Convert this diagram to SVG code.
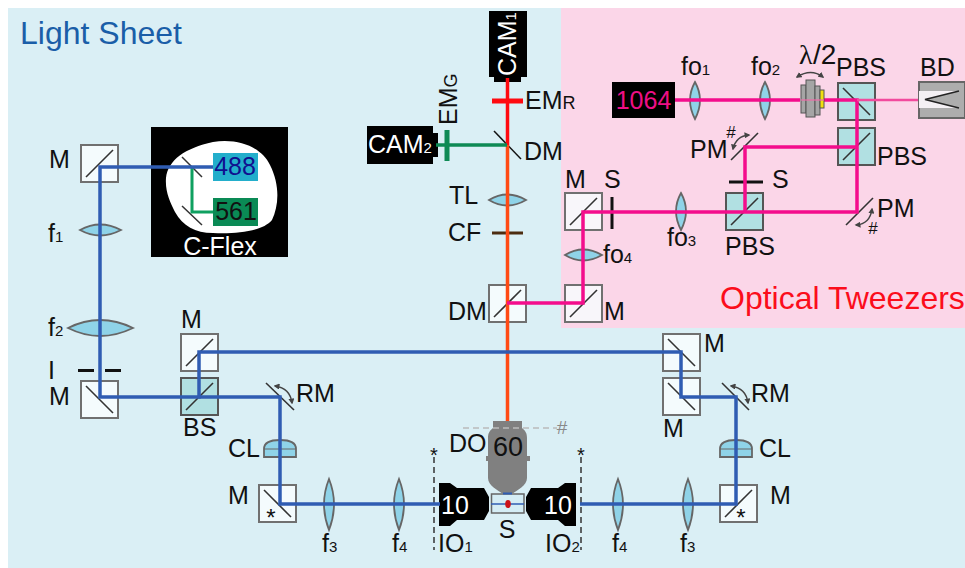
<svg xmlns="http://www.w3.org/2000/svg" width="965" height="568" viewBox="0 0 965 568">
<style>
text{font-family:"Liberation Sans",Arial,sans-serif;font-size:25px;fill:#111}
.sub{font-size:15px}
.subl{font-size:18px}
.w{fill:#fff}
.box{fill:#f4fbfd;stroke:#707070;stroke-width:2}
.pbox{fill:#f8f6fa;stroke:#707070;stroke-width:2}
.teal{fill:#b1e0e2;stroke:#555;stroke-width:2}
.m{stroke:#333;stroke-width:1.600;fill:none}
.lens{fill:#8fd3e8;stroke:#666;stroke-width:1.800}
.b{fill:none;stroke-linejoin:miter;stroke-width:3.500}
.blue{stroke:#2f5cb2}
.pink{stroke:#f40d8c}
.bar{stroke:#111;stroke-width:3}
.arc{fill:none;stroke:#444;stroke-width:1.500;marker-start:url(#ah);marker-end:url(#ah)}
.dash{stroke:#333;stroke-width:1.500;stroke-dasharray:6 4;fill:none}
.wp{fill:#a5a5a5;stroke:#555}
</style>
<defs><marker id="ah" viewBox="0 0 8 8" refX="6" refY="4" markerWidth="6" markerHeight="6" markerUnits="userSpaceOnUse" orient="auto-start-reverse"><path d="M0 0L8 4L0 8Z" fill="#444"/></marker></defs>
<rect id="bg-light-sheet" x="8" y="8" width="957" height="560" fill="#daeff5"/>
<rect id="bg-tweezers" x="561" y="8" width="404" height="320" fill="#fbd6e8"/>
<text id="title-ls" x="20" y="44" style="font-size:32px;fill:#1a5ea8">Light Sheet</text>
<text id="title-ot" x="720" y="309" style="font-size:32px;fill:#fb0d1b">Optical Tweezers</text>

<g id="n-cflex">
<rect x="151" y="127" width="137" height="130" fill="#000"/>
<path d="M166 178C168 160 185 148 213 142C240 138 262 148 270 165C280 185 279 205 272 220C262 232 235 234 213 233C195 233 183 226 175 212C170 202 165 192 166 178Z" fill="#fff"/>
<rect x="213" y="153" width="45" height="28" fill="#23aecb"/>
<rect x="213" y="198" width="45" height="28" fill="#0a8a55"/>
<path class="m" d="M182 157L202 177M182 206L202 225" style="stroke-width:1.500"/>
<text x="235" y="175" text-anchor="middle" style="fill:#10108f">488</text>
<text x="236" y="220" text-anchor="middle">561</text>
<text x="220" y="255" text-anchor="middle" class="w">C-Flex</text>
</g>
<g id="n-m1"><rect class="box" x="81" y="145" width="37" height="37"/><path class="m" d="M86 177L113 150"/><text x="49" y="168">M</text></g>
<g id="n-f1"><path class="lens" d="M80 230Q100 219 121 230Q100 241 80 230Z"/><text x="48" y="242">f<tspan class="sub">1</tspan></text></g>
<g id="n-f2"><path class="lens" d="M68 328Q100 312 133 328Q100 344 68 328Z"/><text x="48" y="336">f<tspan class="sub">2</tspan></text></g>
<g id="n-i"><path class="bar" d="M78 370.500H94M105 370.500H121"/><text x="48" y="379">I</text></g>
<g id="n-m2"><rect class="box" x="81" y="381" width="37" height="37"/><path class="m" d="M86 386L113 413"/><text x="49" y="405">M</text></g>
<g id="n-m3"><rect class="box" x="181" y="334" width="37" height="37"/><path class="m" d="M186 366L213 339"/><text x="181" y="328">M</text></g>
<g id="n-bs"><rect class="teal" x="181" y="378" width="37" height="37"/><path class="m" d="M186 410L213 383"/><text x="183" y="436">BS</text></g>
<g id="n-rm1"><path class="m" d="M266 383L294 410"/><path class="arc" d="M275 386Q290 388 292 403"/><text x="296" y="402">RM</text></g>
<g id="n-cl1"><path class="lens" d="M264 457V449Q264 440 280 440Q296 440 296 449V457Z"/><path d="M264 449H296" stroke="#666" fill="none"/><text x="228" y="457">CL</text></g>
<g id="n-m4"><rect class="box" x="259" y="485" width="37" height="37"/><path class="m" d="M264 490L291 517"/><text x="271" y="526" text-anchor="middle" style="font-size:24px">*</text><text x="228" y="504">M</text></g>
<g id="n-f3l"><path class="lens" d="M329 479Q339 504 329 530Q319 504 329 479Z"/><text x="322" y="552">f<tspan class="sub">3</tspan></text></g>
<g id="n-f4l"><path class="lens" d="M399 479Q409 504 399 530Q389 504 399 479Z"/><text x="392" y="552">f<tspan class="sub">4</tspan></text></g>

<g id="n-m5"><rect class="box" x="663" y="334" width="37" height="37"/><path class="m" d="M668 339L695 366"/><text x="704" y="352">M</text></g>
<g id="n-m6"><rect class="box" x="663" y="378" width="37" height="37"/><path class="m" d="M668 383L695 410"/><text x="663" y="437">M</text></g>
<g id="n-rm2"><path class="m" d="M722 383L749 410"/><path class="arc" d="M731 386Q746 388 748 403"/><text x="751" y="402">RM</text></g>
<g id="n-cl2"><path class="lens" d="M720 457V449Q720 440 736 440Q752 440 752 449V457Z"/><path d="M720 449H752" stroke="#666" fill="none"/><text x="759" y="457">CL</text></g>
<g id="n-m7"><rect class="box" x="720" y="485" width="37" height="37"/><path class="m" d="M725 517L752 490"/><text x="741" y="526" text-anchor="middle" style="font-size:24px">*</text><text x="770" y="504">M</text></g>
<g id="n-f3r"><path class="lens" d="M688 479Q698 504 688 530Q678 504 688 479Z"/><text x="680" y="552">f<tspan class="sub">3</tspan></text></g>
<g id="n-f4r"><path class="lens" d="M618 479Q628 504 618 530Q608 504 618 479Z"/><text x="612" y="552">f<tspan class="sub">4</tspan></text></g>

<g id="n-sample"><rect x="491.500" y="494" width="32.500" height="19" fill="#d5edf5" stroke="#666" stroke-width="1.500"/><text x="507" y="538" text-anchor="middle">S</text></g>
<g id="n-do">
<path d="M493 421H522V428C526 431 527 434 527 438V456H530V461H527V478C527 486 517 490 512 494H503C498 490 488 486 488 478V461H486V456H488V438C488 434 489 431 493 428Z" fill="#808080"/>
<text x="508" y="456" text-anchor="middle" style="font-size:27px">60</text>
<text x="449" y="452">DO</text>
<path d="M463 428H557" stroke="#bbb" stroke-width="1.500" stroke-dasharray="6 4" fill="none"/>
<text x="562" y="434" text-anchor="middle" style="font-size:19px;fill:#888">#</text>
</g>
<g id="n-io1"><path d="M439 483H450L457 488H484L489 497V511L484 520H457L450 526H439Z" fill="#000"/><text x="455" y="514" text-anchor="middle" class="w">10</text><text x="438" y="552">IO<tspan class="sub">1</tspan></text></g>
<g id="n-io2"><path d="M576 483H565L558 488H531L526 497V511L531 520H558L565 526H576Z" fill="#000"/><text x="558" y="514" text-anchor="middle" class="w">10</text><text x="545" y="552">IO<tspan class="sub">2</tspan></text></g>
<g id="n-star1"><path class="dash" d="M434 457V550"/><text x="434" y="462" text-anchor="middle" style="font-size:20px">*</text></g>
<g id="n-star2"><path class="dash" d="M581 457V550"/><text x="581" y="462" text-anchor="middle" style="font-size:20px">*</text></g>

<g id="n-dm2"><rect class="box" x="489" y="285" width="37" height="37"/><path class="m" d="M494 317L521 290"/><text x="448" y="320">DM</text></g>
<g id="n-cf"><path d="M492 233H523" stroke="#4d2c10" stroke-width="3"/><text x="448" y="241">CF</text></g>
<g id="n-tl"><path class="lens" d="M489 200Q507 189 526 200Q507 211 489 200Z"/><text x="449" y="204">TL</text></g>
<g id="n-dm1"><path d="M494 131L521 159" stroke="#111" stroke-width="1.500"/><text x="524" y="160">DM</text></g>
<g id="n-emr"><path d="M492 101H523" stroke="#ff0a10" stroke-width="5"/><text x="525" y="109">EM<tspan class="subl">R</tspan></text></g>
<g id="n-emg"><path d="M447 130V161" stroke="#0e8a55" stroke-width="5"/><text transform="translate(457 125) rotate(-90)">EM<tspan class="subl">G</tspan></text></g>
<g id="n-cam1"><path d="M489 11H527V77H521V82H494V77H489Z" fill="#000"/><text transform="translate(516 76) rotate(-90)" class="w">CAM<tspan class="sub">1</tspan></text></g>
<g id="n-cam2"><path d="M367 126H433V133H438V157H433V164H367Z" fill="#000"/><text x="368" y="153" class="w">CAM<tspan class="sub">2</tspan></text></g>

<g id="n-1064"><rect x="612" y="82" width="63" height="36" fill="#000"/><text x="643.500" y="109" text-anchor="middle" style="fill:#ee0f86">1064</text></g>
<g id="n-fo1"><path class="lens" d="M695 82Q705 100 695 119Q685 100 695 82Z"/><text x="681" y="75">fo<tspan class="sub">1</tspan></text></g>
<g id="n-fo2"><path class="lens" d="M765 82Q775 100 765 119Q755 100 765 82Z"/><text x="751" y="75">fo<tspan class="sub">2</tspan></text></g>
<g id="n-pbs1"><rect class="teal" x="838" y="83" width="37" height="37"/><path class="m" d="M843 88L870 115"/><text x="836" y="76">PBS</text></g>
<g id="n-pbs2"><rect class="teal" x="838" y="128" width="37" height="37"/><path class="m" d="M843 160L870 133"/><text x="877" y="165">PBS</text></g>
<g id="n-bd"><rect x="919" y="82" width="46" height="36" fill="#adadad" stroke="#666" stroke-width="2"/><path d="M919 91H959L925 99.500L959 108H919Z" fill="#f4f0f4"/><path d="M959 91L925 99.500L959 108" stroke="#222" stroke-width="1.500" fill="none"/><text x="920" y="76">BD</text></g>
<g id="n-pm1"><path class="m" d="M731 160L758 133"/><path class="arc" d="M733 149Q736 136 749 135"/><text x="690" y="158">PM</text><text x="731" y="138" text-anchor="middle" style="font-size:17px">#</text></g>
<g id="n-s2"><path class="bar" d="M729 182H763"/><text x="772" y="188">S</text></g>
<g id="n-pbs3"><rect class="teal" x="726" y="193" width="37" height="37"/><path class="m" d="M731 225L758 198"/><text x="725" y="255">PBS</text></g>
<g id="n-pm2"><path class="m" d="M846 225L873 198"/><path class="arc" d="M856 225Q870 224 872 209"/><text x="877" y="217">PM</text><text x="873" y="234" text-anchor="middle" style="font-size:17px">#</text></g>
<g id="n-fo3"><path class="lens" d="M681 193Q691 211 681 230Q671 211 681 193Z"/><text x="667" y="246">fo<tspan class="sub">3</tspan></text></g>
<g id="n-s1"><path class="bar" d="M612 197V229"/><text x="604" y="188">S</text></g>
<g id="n-m8"><rect class="pbox" x="565" y="193" width="37" height="37"/><path class="m" d="M570 225L597 198"/><text x="565" y="188">M</text></g>
<g id="n-fo4"><path class="lens" d="M565 255Q583 244 602 255Q583 266 565 255Z"/><text x="603" y="263">fo<tspan class="sub">4</tspan></text></g>
<g id="n-m9"><rect class="pbox" x="565" y="285" width="37" height="37"/><path class="m" d="M570 317L597 290"/><text x="604" y="320">M</text></g>

<g id="connectors">
<path class="b" d="M507.500 145V421" stroke="#ff4a14"/>
<path class="b" d="M507.500 78V145" stroke="#ff0a10"/>
<path class="b" d="M507 145H436" stroke="#0e8a55"/>
<path d="M192 167V212H213" fill="none" stroke="#0fa060" stroke-width="3"/>
<path class="b blue" d="M213 167H100V397H199V352H681V397H736V504H580"/>
<path class="b blue" d="M199 397H280V504H440"/>
<path d="M491 504H524" stroke="#2f5cb2" stroke-width="1.500"/>
<path d="M503 493.500H512" stroke="#2f5cb2" stroke-width="2"/>
<ellipse id="sample-drop" cx="508" cy="504" rx="2.800" ry="4" fill="#cc1118"/>
<path class="b pink" d="M675 100H800M822 100H857V212H583V303H507"/>
<path class="b pink" d="M857 147H745V212"/>
<path d="M857 100H918" stroke="#f24a9d" stroke-width="2.500" fill="none"/>
</g>
<g id="n-wp"><rect class="wp" x="801" y="85" width="5" height="28"/><rect class="wp" x="806" y="80" width="9" height="37"/><rect class="wp" x="815" y="86" width="5" height="29"/><rect x="820" y="90" width="4" height="18" fill="#f1e10f" stroke="#555"/><path d="M801 100H824" stroke="#f06aa8" stroke-width="2" opacity=".6"/><path class="arc" d="M797 77Q811 68 823 77"/><text x="799" y="64" style="font-family:'Liberation Serif',serif;font-size:28px">λ</text><text x="813" y="64" style="font-size:28px">/2</text></g>
</svg>
